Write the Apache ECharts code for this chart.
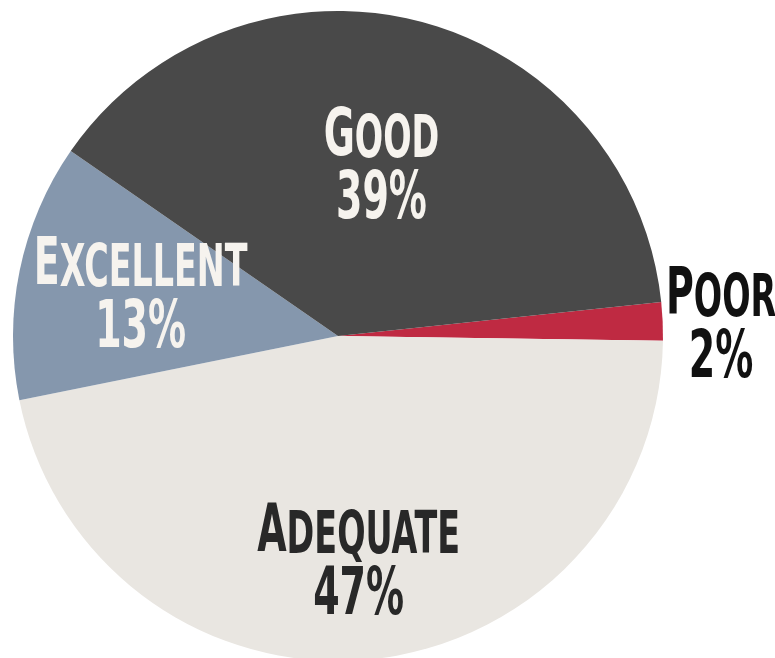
<!DOCTYPE html>
<html>
<head>
<meta charset="utf-8">
<script src="https://cdn.jsdelivr.net/npm/echarts@6/dist/echarts.min.js"></script>
<style>
  html, body { margin: 0; padding: 0; background: #fff; }
  #chart { width: 775px; height: 658px; }
</style>
</head>
<body>
<div id="chart"></div>
<script>
  const categories = ["Poor", "Adequate", "Excellent", "Good"];
  const shares = [1.9, 46.6, 12.8, 38.7];
  const percentLabels = ["2%", "47%", "13%", "39%"];
  const sliceColors = ["#bf2a42", "#e9e6e1", "#8597ad", "#494949"];
  const labelColors = ["#111111", "#282828", "#f6f3ee", "#f6f3ee"];
  const labelRadius = [1.18, 0.69, 0.62, 0.54];
  const labelNudgeY = [11, 8, 5, 5];

  const FONT = '"DejaVu Sans Condensed", "Liberation Sans Narrow", sans-serif';
  const CENTER = [338, 336];
  const RADIUS = 325;
  const START = 6;
  const SQUEEZE = 0.64; // condensed display face look

  const total = shares.reduce((s, v) => s + v, 0);
  const midAngles = [];
  let acc = 0;
  shares.forEach((v) => {
    midAngles.push(START - 360 * (acc + v / 2) / total);
    acc += v;
  });

  function richFor(color) {
    return {
      big: { fontFamily: FONT, fontWeight: "bold", fontSize: 66, color: color, verticalAlign: "bottom", lineHeight: 63 },
      small: { fontFamily: FONT, fontWeight: "bold", fontSize: 58, color: color, verticalAlign: "bottom", lineHeight: 63 },
      pct: { fontFamily: FONT, fontWeight: "bold", fontSize: 66, color: color, verticalAlign: "bottom", lineHeight: 63 }
    };
  }

  const chart = echarts.init(document.getElementById("chart"), null, { renderer: "canvas" });

  chart.setOption({
    animation: false,
    series: [{
      type: "pie",
      center: CENTER,
      radius: RADIUS,
      startAngle: START,
      clockwise: true,
      avoidLabelOverlap: false,
      minShowLabelAngle: 0,
      emphasis: { disabled: true },
      labelLine: { show: false },
      label: {
        show: true,
        position: "inside",
        formatter: (p) => {
          const name = categories[p.dataIndex].toUpperCase();
          return `{big|${name[0]}}{small|${name.slice(1)}}\n{pct|${percentLabels[p.dataIndex]}}`;
        }
      },
      labelLayout: (params) => {
        const i = params.dataIndex;
        const a = midAngles[i] * Math.PI / 180;
        return {
          x: CENTER[0] + Math.cos(a) * RADIUS * labelRadius[i],
          y: CENTER[1] - Math.sin(a) * RADIUS * labelRadius[i] + labelNudgeY[i],
          align: "center",
          verticalAlign: "middle"
        };
      },
      data: categories.map((name, i) => ({
        name: name,
        value: shares[i],
        itemStyle: { color: sliceColors[i] },
        label: { color: labelColors[i], rich: richFor(labelColors[i]) }
      }))
    }]
  });

  // squeeze the labels horizontally around their anchor
  const pieData = chart.getModel().getSeriesByIndex(0).getData();
  pieData.eachItemGraphicEl((el) => {
    const text = el.getTextContent();
    if (text) {
      text.scaleX = SQUEEZE;
      text.markRedraw();
    }
  });
  chart.getZr().refreshImmediately();
</script>
</body>
</html>
